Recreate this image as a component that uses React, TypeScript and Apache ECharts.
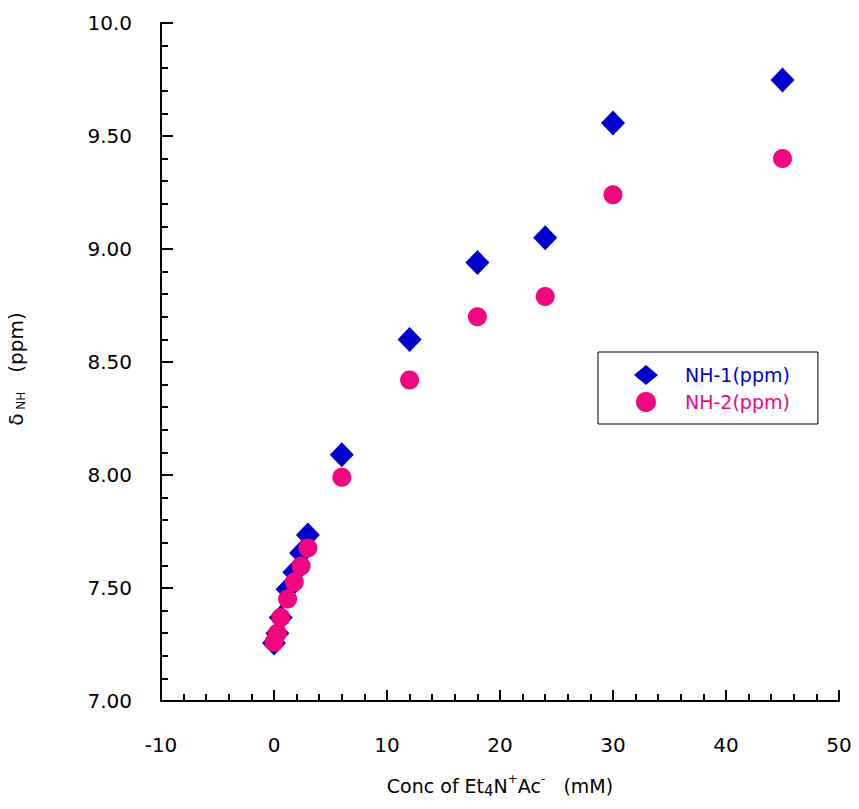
import React, { useEffect, useRef } from "react";
import * as echarts from "echarts";

// Concentration of Et4N+Ac- (mM)
const conc = [0, 0.3, 0.6, 1.2, 1.8, 2.4, 3.0, 6, 12, 18, 24, 30, 45];
// Chemical shift of NH protons (ppm)
const nh1 = [7.257, 7.3, 7.37, 7.495, 7.57, 7.655, 7.735, 8.09, 8.6, 8.94, 9.05, 9.557, 9.748];
const nh2 = [7.26, 7.3, 7.37, 7.451, 7.527, 7.597, 7.677, 7.99, 8.42, 8.7, 8.79, 9.24, 9.4];

const seriesNames = ["NH-1(ppm)", "NH-2(ppm)"];
const blue = "#0000cc";
const pink = "#f0067f";
const font = "DejaVu Sans";

export default function App() {
  const ref = useRef<HTMLDivElement>(null);
  useEffect(() => {
    if (!ref.current) return;
    const chart = echarts.init(ref.current, undefined, { renderer: "svg" });
    const axisLine = { show: true, onZero: false, lineStyle: { color: "#000", width: 2 } };
    chart.setOption({
      animation: false,
      backgroundColor: "#fff",
      grid: { left: 161, right: 20, top: 23, bottom: 108, outerBoundsMode: "none", containLabel: false },
      legend: {
        show: true,
        orient: "vertical",
        left: 598,
        top: 352,
        padding: [13, 28, 12, 36],
        itemGap: 7,
        itemWidth: 24,
        itemHeight: 20,
        borderColor: "#000",
        borderWidth: 1,
        backgroundColor: "#fff",
        data: [
          { name: seriesNames[0], textStyle: { color: blue } },
          { name: seriesNames[1], textStyle: { color: pink } },
        ],
        textStyle: { fontFamily: font, fontSize: 19, padding: [0, 0, 0, 22] },
      },
      xAxis: {
        type: "value",
        min: -10,
        max: 50,
        interval: 10,
        axisLine,
        axisTick: { show: true, inside: true, length: 11, lineStyle: { color: "#000", width: 2 } },
        minorTick: { show: true, splitNumber: 5, length: 7, lineStyle: { color: "#000", width: 2 } },
        splitLine: { show: false },
        axisLabel: { margin: 34, color: "#000", fontFamily: font, fontSize: 20 },
        name: "{n|Conc of Et}{sub|4}{n|N}{sup|+}{n|Ac}{sup|-}{n|   (mM)}",
        nameLocation: "middle",
        nameGap: 72,
        nameTextStyle: {
          rich: {
            n: { fontFamily: font, fontSize: 19, color: "#000" },
            sub: { fontFamily: font, fontSize: 15, color: "#000", verticalAlign: "bottom", padding: [10, 0, 0, 0] },
            sup: { fontFamily: font, fontSize: 12, color: "#000", verticalAlign: "top", padding: [0, 0, 10, 0] },
          },
        },
      },
      yAxis: {
        type: "value",
        min: 7,
        max: 10,
        interval: 0.5,
        axisLine,
        axisTick: { show: true, inside: true, length: 12, lineStyle: { color: "#000", width: 2 } },
        minorTick: { show: true, splitNumber: 5, length: 7, lineStyle: { color: "#000", width: 2 } },
        splitLine: { show: false },
        axisLabel: {
          margin: 29,
          color: "#000",
          fontFamily: font,
          fontSize: 20,
          formatter: (v: number) => (v >= 10 ? v.toFixed(1) : v.toFixed(2)),
        },
        name: "{n|δ}{sub| NH}{n|   (ppm)}",
        nameLocation: "middle",
        nameGap: 134,
        nameRotate: 90,
        nameTextStyle: {
          padding: [0, 14, 0, 0],
          rich: {
            n: { fontFamily: font, fontSize: 20, color: "#000" },
            sub: { fontFamily: font, fontSize: 12, color: "#000", verticalAlign: "bottom", padding: [10, 0, 0, 0] },
          },
        },
      },
      series: [
        {
          name: seriesNames[0],
          type: "scatter",
          symbol: "diamond",
          symbolSize: [24, 25],
          itemStyle: { color: blue, opacity: 1 },
          data: conc.map((c, i) => [c, nh1[i]]),
          z: 2,
        },
        {
          name: seriesNames[1],
          type: "scatter",
          symbol: "circle",
          symbolSize: 19,
          itemStyle: { color: pink, opacity: 1 },
          data: conc.map((c, i) => [c, nh2[i]]),
          z: 3,
        },
      ],
    });
    return () => chart.dispose();
  }, []);
  return <div ref={ref} style={{ width: 859, height: 809, position: "absolute", left: 0, top: 0 }} />;
}
